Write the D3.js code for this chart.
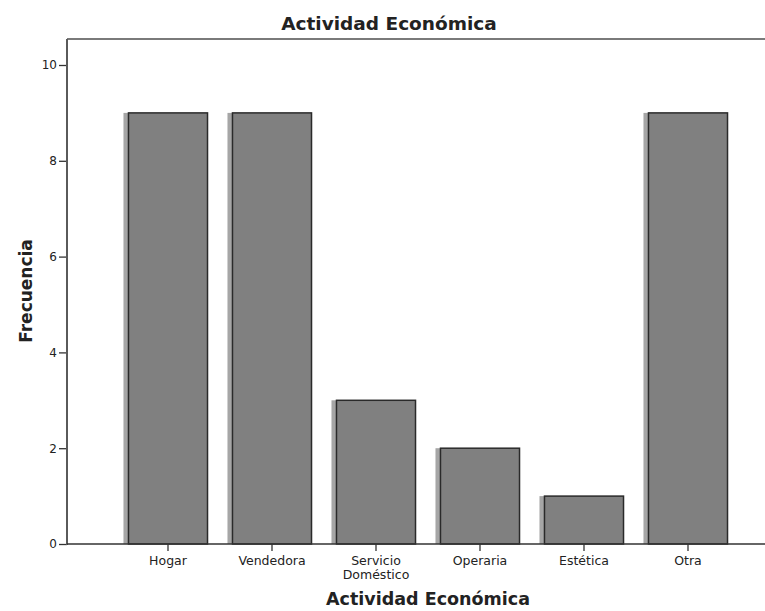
<!DOCTYPE html>
<html>
<head>
<meta charset="utf-8">
<script src="https://cdn.jsdelivr.net/npm/d3@7"></script>
<style>
  html, body { margin: 0; padding: 0; background: #fff; }
  svg { display: block; }
  text { font-family: "DejaVu Sans", sans-serif; fill: #222; }
</style>
</head>
<body>
<svg id="chart" width="765" height="611"></svg>
<script>
// Frequency of each economic activity
const categories = ["Hogar", "Vendedora", "Servicio Doméstico", "Operaria", "Estética", "Otra"];
const counts = [9, 9, 3, 2, 1, 9];
const yTicks = [0, 2, 4, 6, 8, 10];

const svg = d3.select("#chart");
const plotLeft = 67, plotRight = 765, plotTop = 39, plotBottom = 544;

const x = d3.scaleBand()
  .domain(categories)
  .range([116, 740])
  .paddingInner(0.24)
  .paddingOuter(0.12);

const y = d3.scaleLinear()
  .domain([0, 10])
  .range([plotBottom, 65]);

// Bars: a pale offset band on the left, then the main bar with a dark edge
const bars = svg.append("g");
const shadowW = 5;
bars.selectAll("rect.shade")
  .data(categories)
  .join("rect")
  .attr("class", "shade")
  .attr("x", d => x(d) - shadowW)
  .attr("y", (d, i) => y(counts[i]))
  .attr("width", shadowW + 2)
  .attr("height", (d, i) => plotBottom - y(counts[i]))
  .attr("fill", "#a6a6a6");

bars.selectAll("rect.bar")
  .data(categories)
  .join("rect")
  .attr("class", "bar")
  .attr("x", d => x(d))
  .attr("y", (d, i) => y(counts[i]))
  .attr("width", x.bandwidth())
  .attr("height", (d, i) => plotBottom - y(counts[i]))
  .attr("fill", "#808080")
  .attr("stroke", "#2a2a2a")
  .attr("stroke-width", 1.5);

// Top frame line
svg.append("line")
  .attr("x1", plotLeft).attr("x2", plotRight)
  .attr("y1", plotTop).attr("y2", plotTop)
  .attr("stroke", "#7a7a7a").attr("stroke-width", 2);

// Y axis
const yAxis = svg.append("g")
  .attr("transform", `translate(${plotLeft},0)`)
  .call(d3.axisLeft(y).tickValues(yTicks).tickSize(8).tickPadding(2).tickFormat(d3.format("d")));
yAxis.select(".domain").remove();
yAxis.append("line")
  .attr("x1", 0).attr("x2", 0)
  .attr("y1", plotTop).attr("y2", plotBottom + 1)
  .attr("stroke", "#5a5a5a").attr("stroke-width", 2);
yAxis.selectAll(".tick line").attr("stroke", "#333").attr("stroke-width", 1.3);
yAxis.selectAll(".tick text")
  .style("font-family", "'DejaVu Sans', sans-serif")
  .style("font-size", "12px")
  .attr("fill", "#333");

// X axis
const xAxis = svg.append("g")
  .attr("transform", `translate(0,${plotBottom})`)
  .call(d3.axisBottom(x).tickSize(7).tickPadding(5));
xAxis.select(".domain").remove();
xAxis.append("line")
  .attr("x1", plotLeft).attr("x2", plotRight)
  .attr("y1", 0).attr("y2", 0)
  .attr("stroke", "#333").attr("stroke-width", 1.5);
xAxis.selectAll(".tick line").attr("stroke", "#333").attr("stroke-width", 1.3);
xAxis.selectAll(".tick text")
  .style("font-family", "'DejaVu Sans', sans-serif")
  .style("font-size", "12.5px")
  .attr("fill", "#333")
  .each(function(d) {
    const t = d3.select(this);
    const words = d.split(" ");
    if (words.length > 1) {
      t.text(null);
      words.forEach((w, i) => {
        t.append("tspan").attr("x", 0).attr("dy", i === 0 ? "0.71em" : "1.1em").text(w);
      });
      t.attr("dy", null);
    }
  });

// Titles
svg.append("text")
  .attr("x", 389).attr("y", 30)
  .attr("text-anchor", "middle")
  .style("font-size", "18.5px").style("font-weight", "bold")
  .attr("fill", "#111")
  .text("Actividad Económica");

svg.append("text")
  .attr("x", 428).attr("y", 605)
  .attr("text-anchor", "middle")
  .style("font-size", "17.5px").style("font-weight", "bold")
  .attr("fill", "#111")
  .text("Actividad Económica");

svg.append("text")
  .attr("transform", "translate(32,291) rotate(-90)")
  .attr("text-anchor", "middle")
  .style("font-size", "17px").style("font-weight", "bold")
  .attr("fill", "#111")
  .text("Frecuencia");
</script>
</body>
</html>
